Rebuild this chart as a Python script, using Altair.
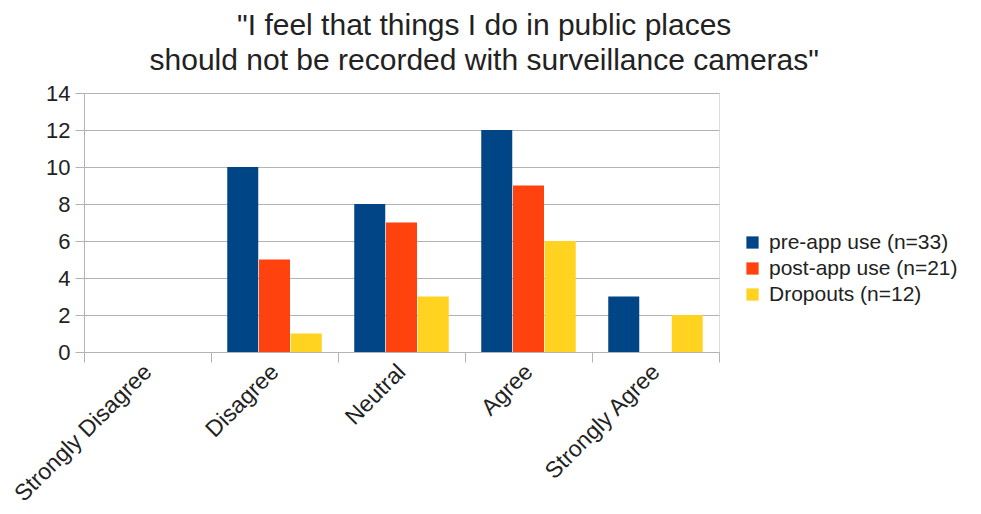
import altair as alt
import pandas as pd

categories = ["Strongly Disagree", "Disagree", "Neutral", "Agree", "Strongly Agree"]
series = ["pre-app use (n=33)", "post-app use (n=21)", "Dropouts (n=12)"]
pre_app = [0, 10, 8, 12, 3]
post_app = [0, 5, 7, 9, 0]
dropouts = [0, 1, 3, 6, 2]
colors = ["#004586", "#ff420e", "#ffd320"]

rows = []
for s, vals in zip(series, [pre_app, post_app, dropouts]):
    for c, v in zip(categories, vals):
        rows.append({"category": c, "series": s, "value": v})
df = pd.DataFrame(rows)

FONT = "Liberation Sans"

chart = alt.Chart(df).mark_bar(size=31).encode(
    x=alt.X("category:N", sort=categories, title=None,
            scale=alt.Scale(paddingInner=0, paddingOuter=0),
            axis=alt.Axis(labelAngle=-45, labelAlign="right", labelBaseline="middle",
                          labelFontSize=23, labelColor="#222222", labelFont=FONT,
                          tickBand="extent", tickSize=10, tickColor="#b3b3b3",
                          domainColor="#b3b3b3", labelPadding=6, grid=False,
                          labelLimit=300)),
    xOffset=alt.XOffset("series:N", sort=series,
                        scale=alt.Scale(paddingInner=0, paddingOuter=0.5)),
    y=alt.Y("value:Q", title=None,
            scale=alt.Scale(domain=[0, 14]),
            axis=alt.Axis(values=list(range(0, 15, 2)), labelFontSize=22,
                          labelColor="#222222", labelFont=FONT, tickSize=9,
                          tickColor="#b3b3b3", gridColor="#b3b3b3",
                          domainColor="#b3b3b3", labelPadding=5)),
    color=alt.Color("series:N", sort=series,
                    scale=alt.Scale(domain=series, range=colors),
                    legend=alt.Legend(title=None, labelFontSize=21, labelFont=FONT,
                                      labelColor="#222222", symbolType="square",
                                      symbolSize=150, symbolStrokeWidth=0,
                                      rowPadding=4, orient="none", labelLimit=400,
                                      legendX=658, legendY=139, labelOffset=6)),
).properties(
    width=635,
    height=259,
    padding={"left": 2, "top": 3, "right": 5, "bottom": 2},
    title=alt.TitleParams(
        text=['"I feel that things I do in public places',
              'should not be recorded with surveillance cameras"'],
        fontSize=30, font=FONT, fontWeight="normal", color="#222222",
        anchor="middle", frame="bounds", lineHeight=35, offset=6,
    ),
).configure_view(stroke="#b3b3b3").configure(background="white")

chart.save("out.html", embed_options={"renderer": "svg", "actions": False})
